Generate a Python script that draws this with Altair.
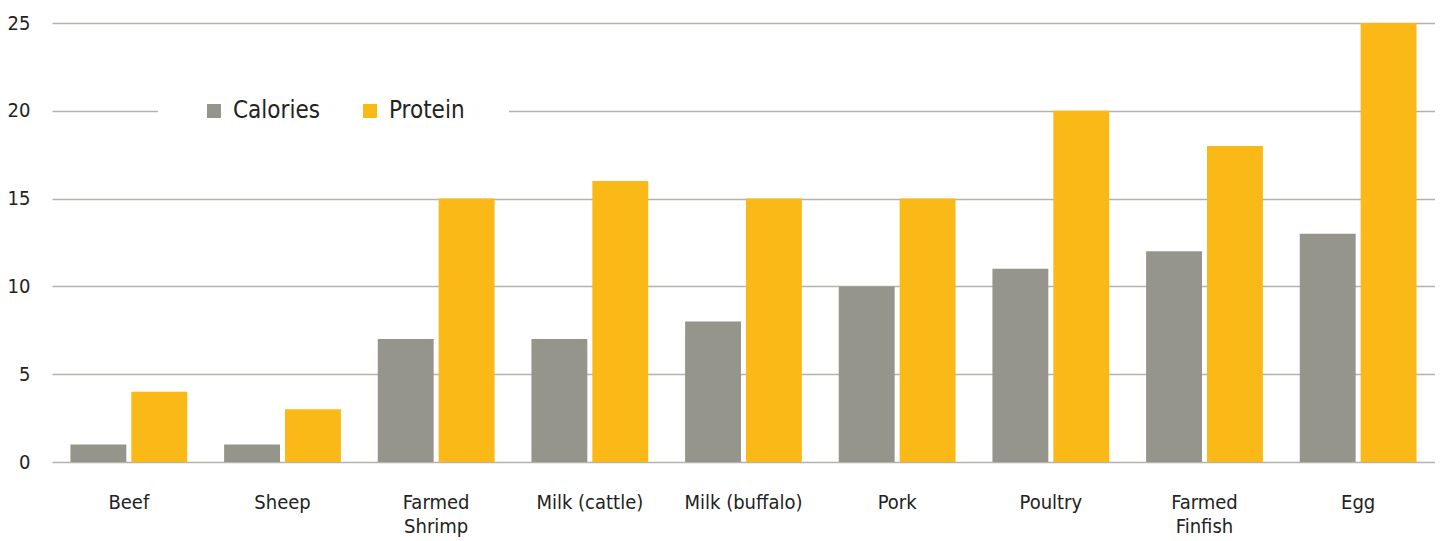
import altair as alt
import pandas as pd

categories = ["Beef", "Sheep", "Farmed Shrimp", "Milk (cattle)", "Milk (buffalo)",
              "Pork", "Poultry", "Farmed Finfish", "Egg"]
calories = [1, 1, 7, 7, 8, 10, 11, 12, 13]
protein = [4, 3, 15, 16, 15, 15, 20, 18, 25]
series = ["Calories", "Protein"]
colors = ["#96958b", "#fbb917"]
y_ticks = [0, 5, 10, 15, 20, 25]

rows = []
for c, cal, pro in zip(categories, calories, protein):
    rows.append({"category": c, "series": "Calories", "value": cal})
    rows.append({"category": c, "series": "Protein", "value": pro})
df = pd.DataFrame(rows)

FONT = "Liberation Sans Narrow, DejaVu Sans Condensed, sans-serif"

chart = alt.Chart(df).mark_bar().encode(
    x=alt.X("category:N", sort=categories, title=None,
            scale=alt.Scale(paddingInner=0.24, paddingOuter=0.12),
            axis=alt.Axis(labelAngle=0, ticks=False, domain=False, labelPadding=30,
                          labelFontSize=20, labelFont=FONT, labelColor="#222",
                          labelLineHeight=24, labelBaseline="top",
                          labelExpr="indexof(datum.label, 'Farmed') == 0 ? split(datum.label, ' ') : datum.label")),
    xOffset=alt.XOffset("series:N", sort=series,
                        scale=alt.Scale(paddingInner=0.082, paddingOuter=0)),
    y=alt.Y("value:Q", title=None,
            scale=alt.Scale(domain=[0, 25], nice=False),
            axis=alt.Axis(values=y_ticks, ticks=False, domain=False, labelPadding=22,
                          labelFontSize=20, labelFont=FONT, labelColor="#222",
                          grid=True, gridColor="#b3b3ab", gridWidth=1.3)),
    color=alt.Color("series:N", sort=series,
                    scale=alt.Scale(domain=series, range=colors),
                    legend=alt.Legend(title=None, orient="none", direction="horizontal",
                                      legendX=106, legendY=32,
                                      fillColor="white", padding=44,
                                      symbolType="square", symbolSize=196,
                                      symbolStrokeWidth=0, symbolOpacity=1,
                                      labelFont=FONT, labelFontSize=24,
                                      labelColor="#222", labelOffset=7,
                                      columnPadding=38)),
).properties(
    width=1383, height=439,
    autosize=alt.AutoSizeParams(type="none"),
    padding={"left": 44, "top": 15, "right": 0, "bottom": 78},
).configure_view(stroke=None)

chart.save("out.html", embed_options={"renderer": "svg", "actions": False})
